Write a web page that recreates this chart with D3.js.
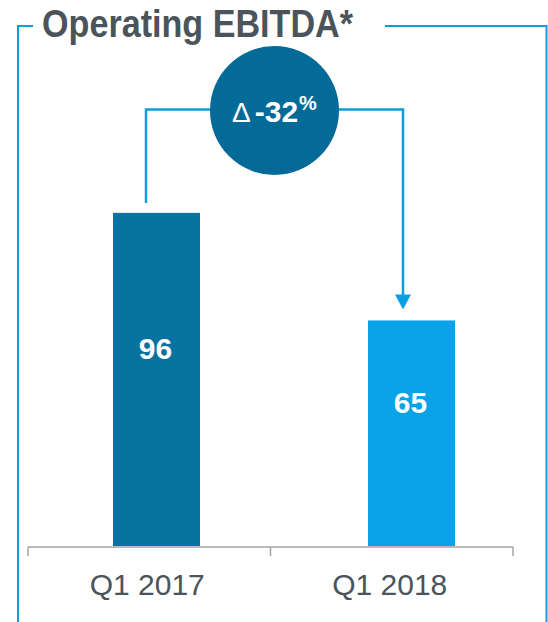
<!DOCTYPE html>
<html>
<head>
<meta charset="utf-8">
<script src="https://cdn.jsdelivr.net/npm/d3@7/dist/d3.min.js"></script>
<style>
  html, body { margin: 0; padding: 0; background: #ffffff; }
  svg { display: block; font-family: Arial, "Liberation Sans", Helvetica, sans-serif; }
</style>
</head>
<body>
<svg id="chart" width="548" height="622"></svg>
<script>
// Operating EBITDA by quarter
const categories = ["Q1 2017", "Q1 2018"];
const values = [96, 65];
const barColors = ["#0872a0", "#08a2e8"];
const changeLabel = "-32";
const title = "Operating EBITDA*";

const W = 548, H = 622;
const svg = d3.select("#chart");

const textGrey = "#4b545a";
const lineBlue = "#0a9fe0";
const circleBlue = "#046a97";
const axisGrey = "#a3a3a3";

// Scales
const xAxisScale = d3.scaleBand().domain(categories).range([28, 513]);
const xBar = d3.scalePoint().domain(categories).range([156.5, 411.5]);
const barWidth = 87;
const y = d3.scaleLinear().domain([0, 100]).range([546, 199]);

// Frame around the panel
const frame = svg.append("g").attr("fill", "none").attr("stroke", lineBlue).attr("stroke-width", 2);
frame.append("path").attr("d", `M18,${H} L18,26 L33,26`);
frame.append("path").attr("d", `M385,26 L546.5,26 L546.5,${H}`);

// Title
svg.append("text")
  .attr("x", 42).attr("y", 37)
  .attr("font-size", 38).attr("font-weight", "bold")
  .attr("fill", textGrey)
  .attr("textLength", 311).attr("lengthAdjust", "spacingAndGlyphs")
  .text(title);

// Bars
svg.selectAll("rect.bar")
  .data(values)
  .join("rect")
  .attr("class", "bar")
  .attr("x", (d, i) => xBar(categories[i]) - barWidth / 2)
  .attr("width", barWidth)
  .attr("y", d => y(d))
  .attr("height", d => y(0) - y(d))
  .attr("fill", (d, i) => barColors[i]);

// Value labels inside bars
svg.selectAll("text.val")
  .data(values)
  .join("text")
  .attr("class", "val")
  .attr("x", (d, i) => xBar(categories[i]) - 1)
  .attr("y", d => (y(d) + y(0)) / 2 - 20.5)
  .attr("text-anchor", "middle")
  .attr("font-size", 30).attr("font-weight", "bold")
  .attr("fill", "#ffffff")
  .text(d => d);

// Axis
const axisY = 547;
const axis = svg.append("g").attr("stroke", axisGrey).attr("stroke-width", 1.5).attr("fill", "none");
const [a0, a1] = xAxisScale.range();
axis.append("line").attr("x1", a0).attr("x2", a1).attr("y1", axisY).attr("y2", axisY);
const tickXs = [a0, ...categories.slice(1).map(c => xAxisScale(c)), a1];
axis.selectAll("line.tick")
  .data(tickXs)
  .join("line")
  .attr("class", "tick")
  .attr("x1", d => d).attr("x2", d => d)
  .attr("y1", axisY).attr("y2", axisY + 9);

svg.selectAll("text.cat")
  .data(categories)
  .join("text")
  .attr("class", "cat")
  .attr("x", d => xAxisScale(d) + xAxisScale.bandwidth() / 2 - 2)
  .attr("y", 595)
  .attr("text-anchor", "middle")
  .attr("font-size", 30)
  .attr("fill", textGrey)
  .text(d => d);

// Change connector with arrow
const lx = xBar(categories[0]) - 10.5;
const rx = xBar(categories[1]) - 8.5;
const topY = 109.5;
const arrowTip = y(values[1]) - 11;
svg.append("path")
  .attr("d", `M${lx},${y(values[0]) - 10} L${lx},${topY} L${rx},${topY} L${rx},${arrowTip - 14}`)
  .attr("fill", "none").attr("stroke", lineBlue).attr("stroke-width", 2.5);
svg.append("path")
  .attr("d", `M${rx - 8},${arrowTip - 15} L${rx + 8},${arrowTip - 15} L${rx},${arrowTip} Z`)
  .attr("fill", lineBlue);

// Change bubble
const cx = 274.5, cy = 110.5;
svg.append("circle").attr("cx", cx).attr("cy", cy).attr("r", 64.5).attr("fill", circleBlue);
const bubble = svg.append("text")
  .attr("x", 232).attr("y", 122)
  .attr("fill", "#ffffff");
bubble.append("tspan").attr("font-size", 28).text("\u0394");
bubble.append("tspan").attr("font-size", 30).attr("font-weight", "bold").attr("dx", 4).text(changeLabel);
bubble.append("tspan").attr("font-size", 20).attr("font-weight", "bold").attr("dx", 1).attr("dy", -12).text("%");
</script>
</body>
</html>
